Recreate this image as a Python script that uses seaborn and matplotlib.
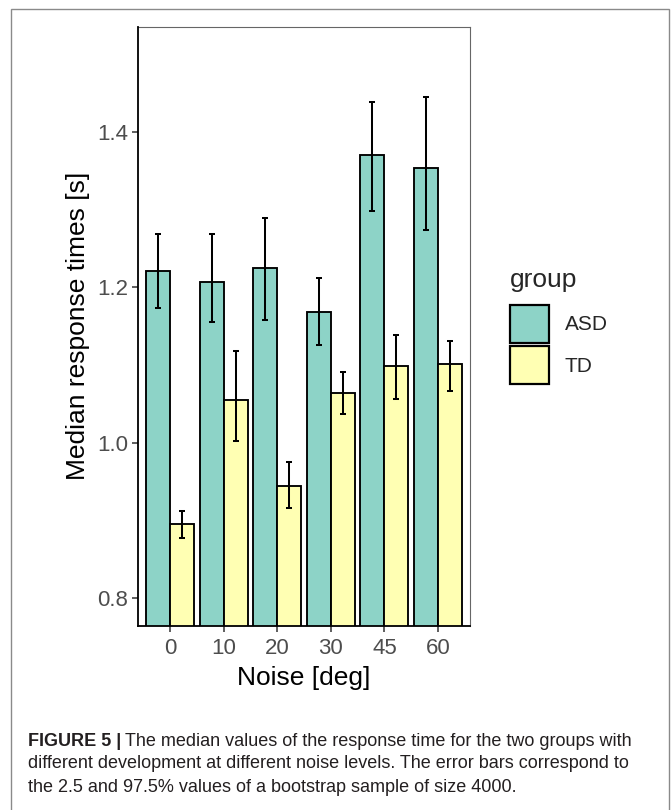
import matplotlib
matplotlib.use("Agg")
import matplotlib.pyplot as plt
import seaborn as sns
import pandas as pd
import numpy as np
from matplotlib.patches import Rectangle, Patch

# ---- data ----
noise = ["0", "10", "20", "30", "45", "60"]
groups = ["ASD", "TD"]
asd_median = [1.221, 1.207, 1.225, 1.168, 1.370, 1.354]
asd_low = [1.173, 1.155, 1.158, 1.126, 1.298, 1.274]
asd_high = [1.268, 1.268, 1.289, 1.212, 1.438, 1.445]
td_median = [0.896, 1.055, 0.945, 1.064, 1.099, 1.101]
td_low = [0.878, 1.003, 0.916, 1.037, 1.057, 1.067]
td_high = [0.913, 1.118, 0.975, 1.091, 1.139, 1.131]
colors = {"ASD": "#8DD3C7", "TD": "#FFFFB3"}

df = pd.DataFrame({
    "noise": noise * 2,
    "group": ["ASD"] * 6 + ["TD"] * 6,
    "median": asd_median + td_median,
    "low": asd_low + td_low,
    "high": asd_high + td_high,
})

sns.set_theme(style="white")
plt.rcParams["font.family"] = ["Liberation Sans", "DejaVu Sans"]

W, H = 671, 810
fig = plt.figure(figsize=(W / 100, H / 100), dpi=100)
ax = fig.add_axes([138.3 / W, 1 - 625.7 / H, (470 - 138.3) / W, (625.7 - 26.7) / H])

sns.barplot(data=df, x="noise", y="median", hue="group", order=noise,
            hue_order=groups, palette=colors, errorbar=None, width=0.9,
            gap=0, edgecolor="black", linewidth=1.35, saturation=1,
            legend=False, ax=ax)

# error bars placed at the bar centres
for cont, g in zip(ax.containers, groups):
    sub = df[df["group"] == g].set_index("noise").loc[noise]
    xs = [p.get_x() + p.get_width() / 2 for p in cont.patches]
    ys = sub["median"].values
    yerr = [ys - sub["low"].values, sub["high"].values - ys]
    ax.errorbar(xs, ys, yerr=yerr, fmt="none", ecolor="black",
                elinewidth=1.45, capsize=1.9, capthick=1.45, zorder=5)

ax.set_xlim(-0.6, 5.6)
ax.set_ylim(0.765, 1.535)
ax.set_yticks([0.8, 1.0, 1.2, 1.4])
ax.set_yticklabels(["0.8", "1.0", "1.2", "1.4"])
ax.set_xlabel("Noise [deg]", fontsize=19, color="black", labelpad=5)
ax.set_ylabel("Median response times [s]", fontsize=19, color="black", labelpad=5)
ax.tick_params(axis="both", labelsize=16, labelcolor="#4D4D4D", color="#333333",
               length=4.3, width=1.1, direction="out")
ax.tick_params(axis="x", pad=4.5)
ax.tick_params(axis="y", pad=3)
ax.tick_params(axis="both", which="both", bottom=True, left=True)
for s in ["left", "bottom"]:
    ax.spines[s].set_color("black")
    ax.spines[s].set_linewidth(1.3)
    ax.spines[s].set_zorder(6)
for s in ["top", "right"]:
    ax.spines[s].set_color("#666666")
    ax.spines[s].set_linewidth(0.8)

handles = [Patch(facecolor=colors[g], edgecolor="black", linewidth=1.6) for g in groups]
leg = fig.legend(handles, groups, title="group", loc="upper left",
                 bbox_to_anchor=(510 / W, 1 - 268 / H), frameon=False,
                 fontsize=15, title_fontsize=19, handlelength=1.88,
                 handleheight=2.45, labelspacing=0.16, handletextpad=0.75,
                 borderpad=0, borderaxespad=0)
leg._legend_box.align = "left"
leg._legend_box.sep = 9

# outer frame
fig.patches.append(Rectangle((11 / W, -0.02), (669 - 11) / W, 1.02 - 9 / H,
                             transform=fig.transFigure, fill=False,
                             edgecolor="#8a8a8a", linewidth=1.0))

# caption
cap_family = ["Liberation Sans Narrow", "Liberation Sans", "DejaVu Sans"]
fig.canvas.draw()
r = fig.canvas.get_renderer()
cfs = 13
t0 = fig.text(28 / W, 1 - 741 / H, "FIGURE 5 |", fontsize=cfs, fontweight="bold",
              family=cap_family, va="center", ha="left", color="#231f20")
bb = t0.get_window_extent(renderer=r)
fig.text(bb.x1 / W + 4 / W, 1 - 741 / H,
         "The median values of the response time for the two groups with",
         fontsize=cfs, family=cap_family, va="center", ha="left", color="#231f20")
fig.text(28 / W, 1 - 764 / H,
         "different development at different noise levels. The error bars correspond to",
         fontsize=cfs, family=cap_family, va="center", ha="left", color="#231f20")
fig.text(28 / W, 1 - 787 / H,
         "the 2.5 and 97.5% values of a bootstrap sample of size 4000.",
         fontsize=cfs, family=cap_family, va="center", ha="left", color="#231f20")

fig.savefig("out.png", dpi=100)
